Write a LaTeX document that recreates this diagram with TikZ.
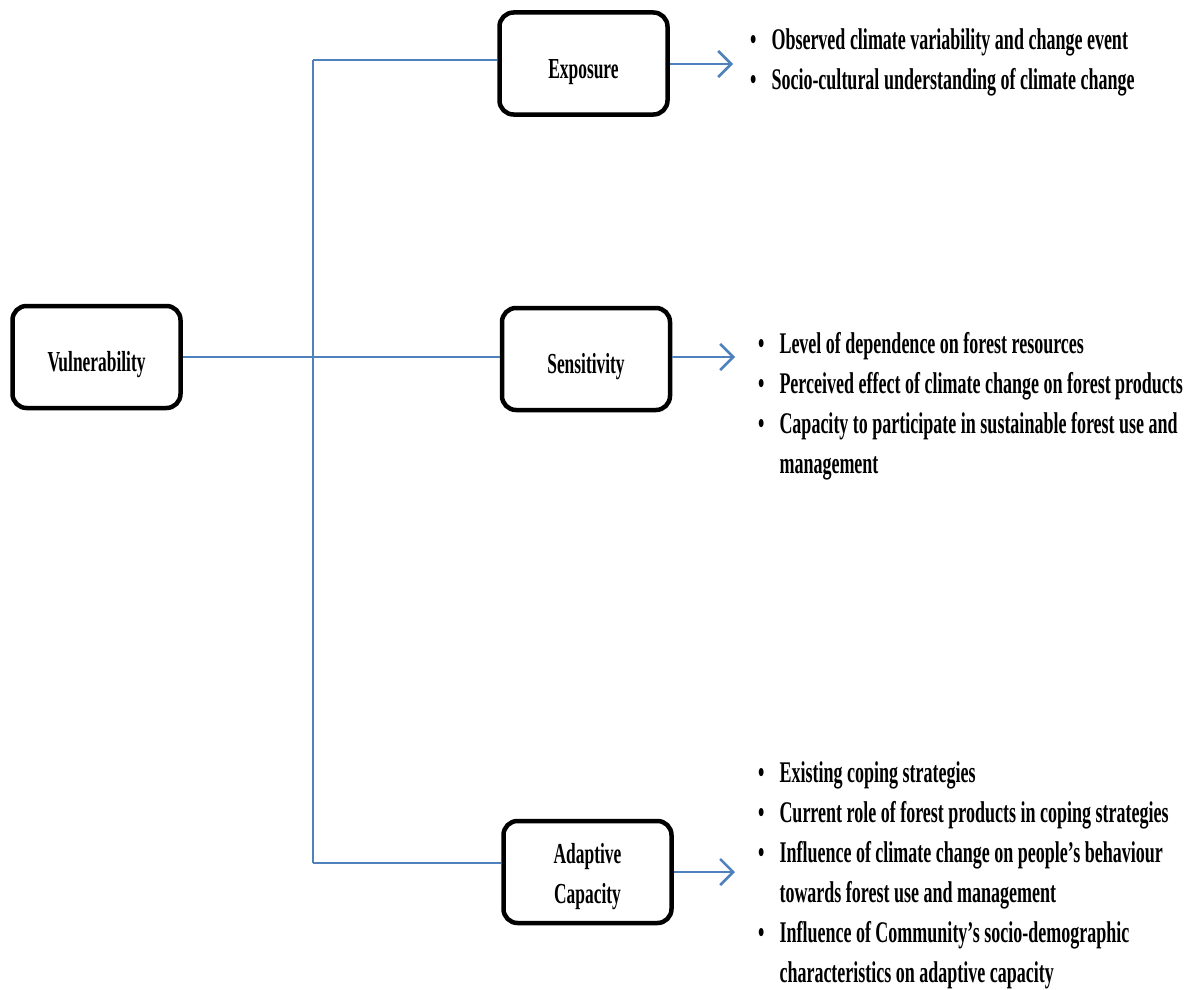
\documentclass[tikz,border=0pt]{standalone}
\usepackage{fontspec}
\setmainfont[FakeStretch=0.6]{Liberation Serif}
\usetikzlibrary{arrows.meta}
\definecolor{lineblue}{HTML}{4F81BD}
\tikzset{
    box/.style={draw, line width=4.5pt, rounded corners=14pt, minimum width=168pt, minimum height=102pt, align=center, font=\bfseries\fontsize{29}{40}\selectfont},
    lowtext/.style={text height=29pt, text depth=0pt},
    link/.style={draw=lineblue, line width=2.6pt},
    pointer/.style={link, -{Straight Barb[length=13pt,width=26pt]}},
    items/.style={anchor=base west, inner sep=0pt, font=\bfseries\fontsize{30}{40}\selectfont}
}
\begin{document}
\begin{tikzpicture}[x=1pt, y=-1pt]
        \useasboundingbox (0,0) rectangle (1187,990);

        \node[box, lowtext] (vul) at (96.5,357) {Vulnerability};
        \node[box, lowtext] (exp) at (583.5,63.5) {Exposure};
        \node[box, lowtext] (sen) at (586,359) {Sensitivity};
        \node[box] (ada) at (587.5,872) {\rule{0pt}{30pt}Adaptive\\Capacity};

        \coordinate (trunktop) at (313,60);
        \coordinate (trunkbot) at (313,863);
        \coordinate (exptip) at (733,64);
        \coordinate (sentip) at (735,357);
        \coordinate (adatip) at (735,872);

        \path [link] (vul.east) -- (vul.east -| sen.west);
        \path [link] (trunktop) -- (trunkbot);
        \path [link] (trunktop) -- (trunktop -| exp.west);
        \path [link] (trunkbot) -- (trunkbot -| ada.west);

        \path [pointer] (exptip -| exp.east) -- (exptip);
        \path [pointer] (sentip -| sen.east) -- (sentip);
        \path [pointer] (adatip -| ada.east) -- (adatip);

        \node[items] (expitems) at (750,50) {\begin{tabular}[t]{@{}l@{\hspace{15pt}}l@{}}
            \textbullet & Observed climate variability and change event\\
            \textbullet & Socio-cultural understanding of climate change
        \end{tabular}};
        \node[items] (senitems) at (758,353) {\begin{tabular}[t]{@{}l@{\hspace{15pt}}l@{}}
            \textbullet & Level of dependence on forest resources\\
            \textbullet & Perceived effect of climate change on forest products\\
            \textbullet & Capacity to participate in sustainable forest use and\\
            & management
        \end{tabular}};
        \node[items] (adaitems) at (758,782) {\begin{tabular}[t]{@{}l@{\hspace{15pt}}l@{}}
            \textbullet & Existing coping strategies\\
            \textbullet & Current role of forest products in coping strategies\\
            \textbullet & Influence of climate change on people’s behaviour\\
            & towards forest use and management\\
            \textbullet & Influence of Community’s socio-demographic\\
            & characteristics on adaptive capacity
        \end{tabular}};
\end{tikzpicture}
\end{document}
